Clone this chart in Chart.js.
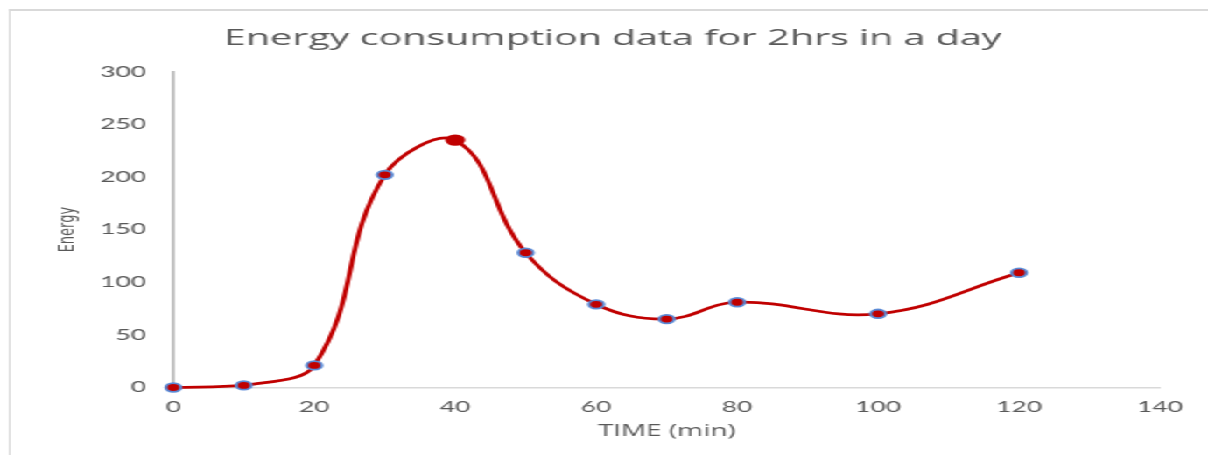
<!DOCTYPE html>
<html>
<head>
<meta charset="utf-8">
<title>Energy consumption data for 2hrs in a day</title>
<script src="https://cdn.jsdelivr.net/npm/chart.js@4.4.1/dist/chart.umd.min.js"></script>
<style>
  html, body { margin: 0; padding: 0; background: #ffffff; overflow: hidden; }
  /* The chart is laid out narrow and widened horizontally, like a stretched Excel chart */
  #stage { position: absolute; left: 0; top: 0; width: 690px; height: 455px;
           transform: scaleX(1.750725); transform-origin: 0 0; }
  #frame { position: absolute; left: 5.3px; top: 9.3px; right: -20px; bottom: -20px;
           border-left: 1.5px solid #d9d9d9; border-top: 2px solid #d9d9d9; }
  #c { position: absolute; left: 0; top: 0; }
</style>
</head>
<body>
<div id="stage">
  <div id="frame"></div>
  <canvas id="c" width="690" height="455"></canvas>
</div>
<script>
// Measurements: time of day offset (minutes) and energy used
const timeMin = [0, 10, 20, 30, 40, 50, 60, 70, 80, 100, 120];
const energy  = [0, 2, 21, 202, 235, 128, 79, 65, 81, 70, 109];

// Axis tick values
const xTickValues = [0, 20, 40, 60, 80, 100, 120, 140];
const yTickValues = [0, 50, 100, 150, 200, 250, 300];

const RED = '#c00000';
const BLUE = '#5a8ad6';
const TEXT = '#595959';

const points = timeMin.map((t, i) => ({ x: t, y: energy[i] }));
const peakIndex = energy.indexOf(Math.max(...energy));

new Chart(document.getElementById('c'), {
  type: 'line',
  data: {
    datasets: [{
      data: points,
      borderColor: RED,
      borderWidth: 2.75,
      tension: 0.4,
      fill: false,
      clip: false,
      pointBackgroundColor: RED,
      pointBorderColor: energy.map((v, i) => i === peakIndex ? RED : BLUE),
      pointBorderWidth: 1.8,
      pointRadius: energy.map((v, i) => i === peakIndex ? 4.8 : 4.3),
      pointHoverRadius: 4.3
    }]
  },
  options: {
    responsive: false,
    animation: false,
    events: [],
    layout: { padding: { left: 37.4, right: 27.4, top: 0, bottom: 0 } },
    plugins: {
      legend: { display: false },
      tooltip: { enabled: false },
      title: {
        display: true,
        text: 'Energy consumption data for 2hrs in a day',
        color: TEXT,
        font: { family: 'Open Sans', size: 22.5, weight: 'normal' },
        padding: { top: 24.7, bottom: 20 }
      }
    },
    scales: {
      x: {
        type: 'linear',
        min: 0,
        max: 140,
        afterBuildTicks: s => { s.ticks = xTickValues.map(v => ({ value: v })); },
        afterFit: s => { s.height = 67.5; },
        grid: { display: false, drawTicks: false },
        border: { display: true, color: '#d9d9d9', width: 1.6 },
        ticks: { color: TEXT, padding: 11, font: { family: 'Lato', size: 15 } },
        title: {
          display: true,
          text: 'TIME (min)',
          color: TEXT,
          font: { family: 'Open Sans', size: 16 },
          padding: { top: 0, bottom: 14 }
        }
      },
      y: {
        type: 'linear',
        min: 0,
        max: 300,
        afterBuildTicks: s => { s.ticks = yTickValues.map(v => ({ value: v })); },
        afterFit: s => { s.width = 61.6; },
        grid: { display: false, drawTicks: false },
        border: { display: true, color: '#bfbfbf', width: 1.9 },
        ticks: { color: TEXT, padding: 15.6, font: { family: 'Lato', size: 15 } },
        title: {
          display: true,
          text: 'Energy',
          color: TEXT,
          font: { family: 'DejaVu Sans', size: 13 },
          padding: { top: -6.8, bottom: 0 }
        }
      }
    }
  }
});
</script>
</body>
</html>
